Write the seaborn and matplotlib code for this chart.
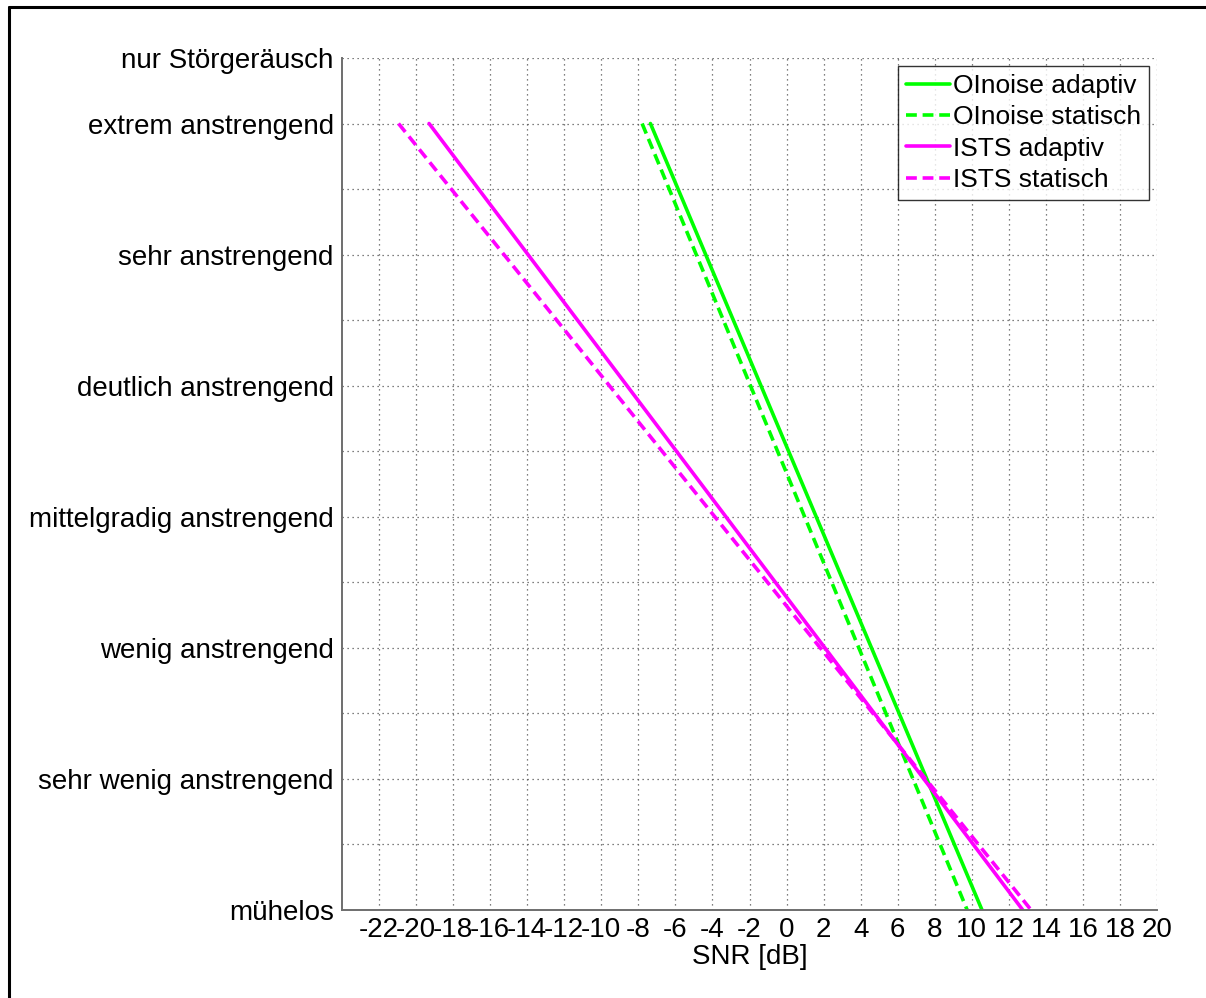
import pandas as pd
import seaborn as sns
import matplotlib.pyplot as plt
from matplotlib.lines import Line2D

# Endpoints of the fitted lines (SNR in dB at effort categories 13 and 1)
effort = [13, 1]
oinoise_adaptiv = [-7.35, 10.55]
oinoise_statisch = [-7.8, 9.75]
ists_adaptiv = [-19.3, 12.75]
ists_statisch = [-20.95, 13.2]

series_names = ['OInoise adaptiv', 'OInoise statisch', 'ISTS adaptiv', 'ISTS statisch']
series_colors = ['#00ff00', '#00ff00', '#ff00ff', '#ff00ff']

# y tick labels (categorical listening effort scale)
ytick_values = list(range(1, 15))
ytick_labels = ['mühelos', '', 'sehr wenig anstrengend', '', 'wenig anstrengend', '',
                'mittelgradig anstrengend', '', 'deutlich anstrengend', '',
                'sehr anstrengend', '', 'extrem anstrengend', 'nur Störgeräusch']
xticks = list(range(-22, 21, 2))

# build long table for seaborn
rows = []
for name, snr in zip(series_names, [oinoise_adaptiv, oinoise_statisch, ists_adaptiv, ists_statisch]):
    for s, e in zip(snr, effort):
        rows.append({'snr': s, 'effort': e, 'series': name})
df = pd.DataFrame(rows)

sns.set_style('white')
plt.rcParams['font.family'] = ['Liberation Sans', 'DejaVu Sans']
plt.rcParams['text.color'] = 'black'
plt.rcParams['xtick.labelcolor'] = 'black'
plt.rcParams['ytick.labelcolor'] = 'black'
plt.rcParams['axes.labelcolor'] = 'black'

fig = plt.figure(figsize=(12.06, 9.98), dpi=100)
ax = fig.add_axes([0.2836, 0.0882, 0.9594 - 0.2836, 0.9419 - 0.0882])

# figure frame (only top and left edges visible in the reference)
fig.add_artist(Line2D([9 / 1206, 9 / 1206], [0, 1 - 7 / 998], color='black', linewidth=2.2,
                      transform=fig.transFigure))
fig.add_artist(Line2D([9 / 1206, 1], [1 - 7 / 998, 1 - 7 / 998], color='black', linewidth=2.2,
                      transform=fig.transFigure))

sns.lineplot(data=df, x='snr', y='effort', hue='series', style='series',
             hue_order=series_names, style_order=series_names,
             palette=dict(zip(series_names, series_colors)),
             dashes={'OInoise adaptiv': '', 'OInoise statisch': (3, 1.6),
                     'ISTS adaptiv': '', 'ISTS statisch': (3, 1.6)},
             sort=False, estimator=None, linewidth=2.6, ax=ax)

ax.set_xlim(-24, 20)
ax.set_ylim(1, 14)
ax.set_xticks(xticks)
ax.set_xticklabels([str(v) for v in xticks])
ax.set_yticks(ytick_values)
ax.set_yticklabels(ytick_labels)
ax.grid(True, linestyle=(0, (1, 3)), color='#555555', linewidth=0.9)
ax.set_axisbelow(True)

for side in ['top', 'right']:
    ax.spines[side].set_visible(False)
for side in ['left', 'bottom']:
    ax.spines[side].set_color('#6e6e6e')
    ax.spines[side].set_linewidth(1.4)

ax.tick_params(axis='both', direction='in', length=8, width=1, color='#444444',
               labelsize=20, pad=6)
ax.tick_params(axis='x', pad=5)
ax.set_xlabel('SNR [dB]', fontsize=20, labelpad=1)
ax.set_ylabel('')

leg = ax.legend(loc='upper right', fontsize=19, frameon=True, fancybox=False,
                handlelength=1.7, handletextpad=0.1, borderpad=0.3, labelspacing=0.28,
                borderaxespad=0.3)
leg.get_frame().set_edgecolor('black')
leg.get_frame().set_linewidth(1)
leg.set_title(None)

fig.savefig('out.png', dpi=100)
